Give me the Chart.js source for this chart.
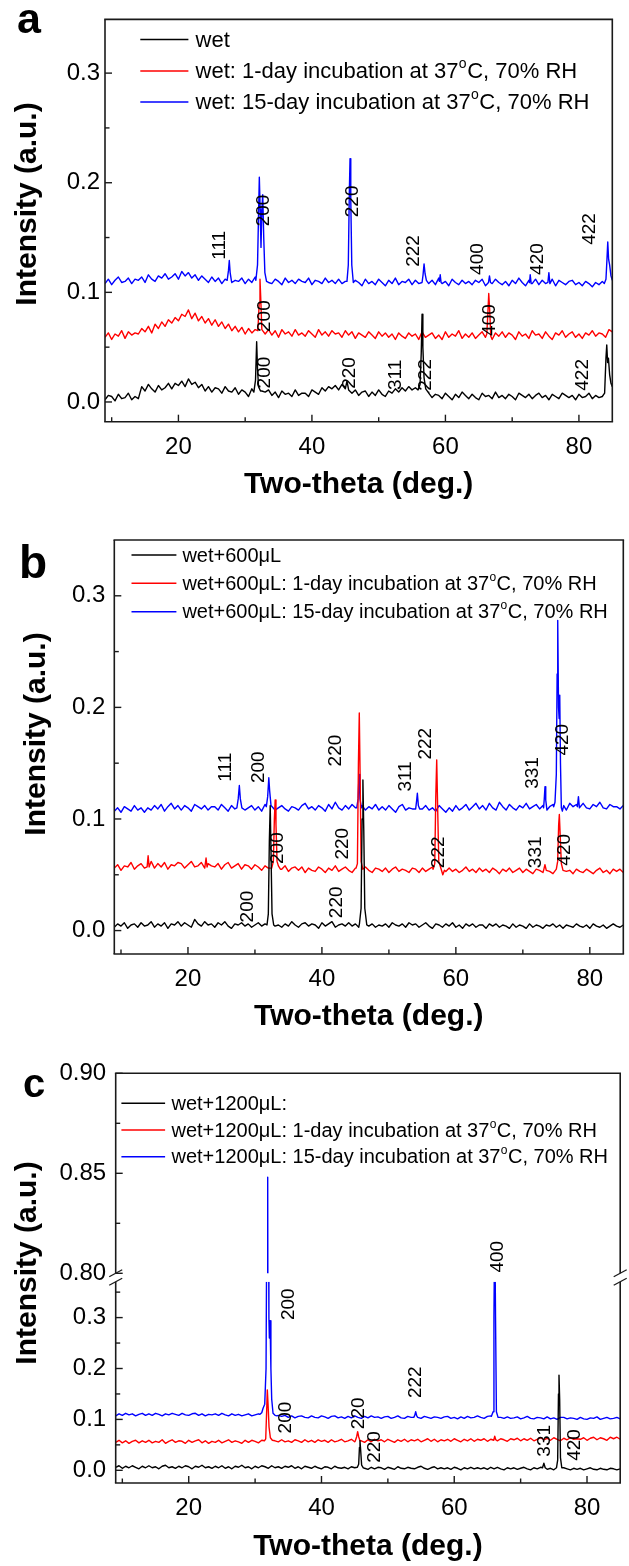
<!DOCTYPE html>
<html><head><meta charset="utf-8">
<script src="https://cdn.jsdelivr.net/npm/chart.js@4.4.1/dist/chart.umd.min.js"></script>
<style>
html,body{margin:0;padding:0;background:#fff;}
body{width:629px;height:1566px;position:relative;overflow:hidden;}
canvas{position:absolute;left:0;}
</style></head><body>
<canvas id="ca" width="629" height="505" style="top:0px"></canvas>
<canvas id="cb" width="629" height="530" style="top:505px"></canvas>
<canvas id="cc" width="629" height="531" style="top:1035px"></canvas>
<script>
// ---------------- DATA ----------------
const UNIT = 0.001;              // intensities below are in 1e-3 a.u.
const THETA0 = 9, DTHETA = 0.5;  // baseline samples: 9.0, 9.5, ... 85.0 deg

const xMajor = [20, 40, 60, 80];
const xMinor = [10, 30, 50, 70];
const yMajorAB = [0, 0.1, 0.2, 0.3];
const yMinorAB = [0.05, 0.15, 0.25];
const yMajorCLow = [0, 0.1, 0.2, 0.3];
const yMinorCLow = [0.05, 0.15, 0.25, 0.35];
const yMajorCHigh = [0.80, 0.85, 0.90];
const yMinorCHigh = [0.825, 0.875];

const legendA = ['wet', 'wet: 1-day incubation at 37°C, 70% RH', 'wet: 15-day incubation at 37°C, 70% RH'];
const legendB = ['wet+600μL', 'wet+600μL: 1-day incubation at 37°C, 70% RH', 'wet+600μL: 15-day incubation at 37°C, 70% RH'];
const legendC = ['wet+1200μL:', 'wet+1200μL: 1-day incubation at 37°C, 70% RH', 'wet+1200μL: 15-day incubation at 37°C, 70% RH'];

// ---- panel a ----
const aWetBase = [2,6,5,1,7,3,4,8,2,5, 3,14,10,16,12,9,15,11,13,17, 12,17,15,19,14,21,16,18,13,16,
 10,14,9,13,12,8,14,10,9,13, 7,11,9,5,12,8,6,10,9,11, 6,9,4,10,7,8,5,11,6,8,
 8,5,11,9,7,13,10,14,12,15, 11,16,13,10,8,11,6,9,10,5, 9,6,11,7,5,10,8,12,9,13,
 10,14,11,13,12,10,5,8,4,7, 6,3,8,5,2,7,4,9,6,3, 7,4,2,8,5,6,3,9,4,6,
 3,7,5,2,8,6,4,7,3,6, 8,4,6,2,7,5,3,8,6,4, 6,2,7,4,5,8,3,6,4,5, 5,30,15];
const aWetPeaks = [
 [[31.3,9],[31.55,20],[31.72,55],[31.85,30],[32.0,14],[32.3,10]],
 [[45.0,12],[45.25,19],[45.5,11]],
 [[55.9,11],[56.2,16],[56.38,45],[56.5,80],[56.62,50],[56.8,22],[57.05,12],[57.4,9]],
 [[83.6,5],[83.85,8],[84.05,40],[84.17,52],[84.3,36],[84.42,40],[84.6,25],[84.8,17],[85.0,14]]];
const aRedBase = [59,63,57,62,60,65,58,64,61,63, 62,67,64,69,63,71,67,73,69,75, 72,77,74,80,78,84,76,81,74,78,
 72,76,70,75,69,73,67,71,65,69, 64,68,62,67,63,66,60,65,62,66, 61,65,59,66,62,64,60,66,61,63,
 60,65,62,59,66,61,64,60,65,62, 63,59,65,61,64,58,63,61,59,64, 61,58,64,60,63,59,62,57,63,60,
 58,63,60,62,57,64,59,61,63,58, 61,57,64,59,62,60,65,58,62,59, 63,58,61,64,59,62,57,63,60,64,
 59,63,61,57,64,60,62,58,65,61, 62,58,64,60,57,63,61,65,59,62, 64,59,62,58,63,61,65,60,63,62, 59,66,64];
const aRedPeaks = [
 [[31.9,65],[32.1,90],[32.22,112],[32.33,95],[32.5,66]],
 [[66.2,62],[66.35,80],[66.49,99],[66.62,85],[66.8,60]]];
const aBlueBase = [108,112,107,111,114,109,110,113,108,112, 111,114,109,116,112,110,115,113,117,112, 114,117,112,119,115,118,113,116,111,115,
 112,109,114,110,113,108,112,115,109,111, 110,113,108,112,109,114,110,107,112,109, 108,112,110,107,113,109,111,108,112,110,
 109,113,107,111,110,108,113,109,111,108, 112,108,110,113,107,111,109,106,112,108, 110,107,112,109,106,111,108,113,107,110,
 109,112,107,111,108,110,113,108,111,107, 113,108,110,106,112,109,107,111,108,110, 107,111,109,112,106,110,108,112,109,107,
 110,106,111,108,113,109,106,111,108,112, 107,111,108,110,112,106,111,109,107,110, 111,107,109,106,110,108,105,109,107,110, 140,125,111];
const aBluePeaks = [
 [[27.3,111],[27.5,120],[27.62,129],[27.75,118],[27.95,110]],
 [[31.6,111],[31.85,125],[32.0,170],[32.12,205],[32.25,175],[32.37,141],[32.5,175],[32.63,189],[32.78,150],[32.95,118],[33.2,110]],
 [[45.25,110],[45.45,125],[45.6,190],[45.71,222],[45.82,185],[45.97,125],[46.2,109]],
 [[56.5,109],[56.65,116],[56.8,126],[56.95,117],[57.15,111]],
 [[59.1,110],[59.22,116],[59.35,109]],
 [[66.45,109],[66.6,115],[66.75,109]],
 [[72.6,109],[72.7,116],[72.85,108]],
 [[75.35,109],[75.5,118],[75.65,108]],
 [[83.8,108],[84.05,112],[84.2,130],[84.32,146],[84.45,130],[84.6,125],[84.8,115],[85.0,111]]];
const peakLabelsA = [
 ['111',26.23,0.1429],['200',32.82,0.1747],['220',46.16,0.183],['222',55.3,0.1377],['400',64.81,0.1304],['420',73.8,0.1304],['422',81.67,0.1578],
 ['200',32.97,0.0783],['400',66.69,0.0747],
 ['200',32.91,0.0268],['220',45.71,0.0265],['311',52.53,0.0247],['222',57.1,0.0247],['422',80.62,0.0247]];

// ---- panel b ----
const bWetBase = [3,6,4,7,2,5,6,3,7,4, 5,8,3,6,4,7,2,6,5,8, 4,7,5,3,10,6,4,8,5,6,
 3,7,5,8,4,2,6,5,7,4, 6,3,5,7,4,6,3,7,4,5, 3,6,4,8,5,3,6,7,4,6,
 5,2,7,4,6,8,3,5,6,4, 7,4,6,3,5,8,4,6,3,5, 4,6,3,7,5,4,6,3,7,5,
 6,3,5,7,4,2,6,5,3,6, 4,7,3,5,2,6,4,6,3,5, 5,2,6,4,6,3,5,4,2,6,
 3,5,4,2,6,3,5,4,2,5, 4,6,3,5,2,5,4,3,6,4, 3,5,2,6,4,3,5,2,4,6, 4,3,5];
const bWetPeaks = [
 [[31.8,5],[32.0,15],[32.15,80],[32.28,112],[32.4,70],[32.55,15],[32.8,5]],
 [[45.6,6],[45.85,20],[46.0,100],[46.12,135],[46.25,90],[46.4,20],[46.7,5]]];
const bRedBase = [56,59,54,58,57,61,55,58,60,56, 59,62,56,60,57,61,55,59,58,61, 60,56,59,62,57,58,61,56,60,58,
 57,60,55,59,61,56,58,60,55,59, 58,55,59,57,54,58,56,59,55,57, 55,58,53,56,57,54,57,52,56,54,
 53,57,55,52,56,54,58,53,55,57, 54,52,56,55,53,57,54,52,56,55, 53,56,52,55,57,53,55,54,52,56,
 55,52,56,53,55,57,52,55,54,53, 56,53,55,52,54,57,53,55,52,56, 53,55,52,56,54,51,55,53,56,52,
 54,56,52,55,53,51,55,54,52,55, 53,51,55,52,56,53,54,51,55,53, 52,55,53,51,54,56,52,54,51,55, 53,55,52];
const bRedPeaks = [
 [[13.9,57],[14.05,67],[14.2,57]],
 [[22.55,58],[22.7,65],[22.85,57]],
 [[32.5,56],[32.75,62],[32.9,100],[33.02,117],[33.14,95],[33.3,62],[33.5,58],[33.8,55]],
 [[45.1,56],[45.3,60],[45.45,150],[45.58,195],[45.7,140],[45.85,62],[46.1,55]],
 [[56.6,55],[56.85,60],[57.0,120],[57.14,153],[57.28,110],[57.45,62],[57.75,56],[58.05,50],[58.3,54]],
 [[73.1,54],[73.3,59],[73.5,54]],
 [[75.0,55],[75.2,62],[75.35,95],[75.45,104],[75.58,85],[75.75,60],[76.0,54]]];
const bBlueBase = [107,110,106,111,109,107,112,108,110,106, 110,108,112,109,113,107,111,114,109,112, 108,112,110,107,113,111,109,112,108,111,
 111,108,113,110,107,112,109,111,113,108, 110,112,108,111,107,113,109,112,108,110, 112,109,107,111,110,108,112,114,109,111,
 108,112,110,107,113,109,115,110,108,112, 109,113,110,107,112,108,111,109,113,108, 111,108,112,109,106,111,113,108,110,109,
 107,111,109,112,108,110,107,112,109,106, 110,107,112,108,110,113,108,111,114,109, 112,108,114,110,108,115,111,108,113,110,
 108,112,110,114,109,111,113,109,112,115, 111,113,109,112,110,108,114,111,113,110, 114,110,109,113,111,115,110,109,113,111, 111,109,112];
const bBluePeaks = [
 [[27.3,110],[27.5,118],[27.67,130],[27.82,118],[28.05,110]],
 [[31.7,111],[31.9,120],[32.07,137],[32.2,125],[32.4,112]],
 [[45.2,110],[45.4,118],[45.54,140],[45.68,118],[45.9,110]],
 [[54.0,109],[54.15,117],[54.25,123],[54.4,112],[54.6,109]],
 [[73.1,110],[73.2,118],[73.31,129],[73.42,117],[73.6,108]],
 [[74.6,111],[74.8,115],[75.0,140],[75.12,230],[75.21,278],[75.33,200],[75.42,190],[75.51,211],[75.62,150],[75.75,110],[75.9,107],[76.1,112]],
 [[78.15,111],[78.3,120],[78.45,110]]];
const peakLabelsB = [
 ['111',25.65,0.1464],['200',30.61,0.1464],['220',42.07,0.1613],['311',52.53,0.1381],['222',55.47,0.1674],['331',71.45,0.1412],['420',75.93,0.171],
 ['200',33.37,0.0739],['220',43.07,0.0778],['222',57.45,0.0701],['331',71.94,0.0701],['420',76.3,0.0724],
 ['200',28.89,0.0215],['220',42.21,0.0253]];

// ---- panel c ----
const cWetBase = [6,9,4,8,5,9,6,3,8,5, 9,5,7,3,8,10,5,7,4,8, 5,9,7,3,8,6,10,5,7,4,
 8,5,9,4,7,3,8,6,10,5, 7,3,8,5,9,7,4,9,5,7, 4,8,6,9,4,7,3,8,6,4,
 8,5,3,7,6,3,8,5,4,6, 3,7,5,3,6,4,2,6,3,6, 5,2,6,4,2,7,4,3,6,4,
 3,6,8,4,2,5,7,3,5,3, 5,2,6,4,1,5,3,6,3,5, 3,5,2,6,3,6,3,1,5,3,
 5,2,4,6,3,1,5,3,6,4, 2,4,1,4,2,5,3,1,4,2, 4,1,3,5,2,1,4,2,1,4, 3,1,3];
const cWetPeaks = [
 [[45.4,6],[45.6,12],[45.72,45],[45.8,58],[45.9,40],[46.05,10],[46.3,5]],
 [[73.3,5],[73.5,14],[73.7,5]],
 [[75.4,5],[75.58,20],[75.7,150],[75.78,187],[75.88,140],[76.0,25],[76.2,5]]];
const cRedBase = [55,59,54,58,53,57,59,54,58,55, 59,54,57,55,60,53,57,60,55,58, 57,53,59,55,58,60,54,58,53,57,
 55,59,54,57,60,55,58,56,53,59, 55,59,57,54,59,56,60,61,58,56, 60,56,58,55,60,58,55,60,56,59,
 55,60,57,59,55,60,56,58,61,56, 58,61,56,60,58,55,60,56,61,58, 60,56,61,58,55,60,57,61,56,60,
 58,61,56,59,62,57,61,56,60,58, 61,57,62,59,56,61,58,62,57,61, 59,62,57,61,63,58,62,60,57,62,
 60,63,58,62,59,63,58,61,64,60, 63,59,64,61,58,63,60,64,61,62, 61,64,59,63,65,60,64,62,59,65, 62,65,61];
const cRedPeaks = [
 [[31.4,58],[31.6,62],[31.75,120],[31.84,158],[31.95,130],[32.1,85],[32.3,64],[32.6,59]],
 [[45.1,58],[45.3,66],[45.45,76],[45.6,66],[45.8,58]],
 [[65.95,59],[66.1,67],[66.25,60]]];
const cBlueBase = [107,111,108,112,109,111,107,110,112,108, 111,108,112,110,107,111,109,112,110,108, 112,109,108,111,112,108,111,107,110,109,
 111,108,112,109,107,111,108,110,107,109, 111,107,109,111,112,113,116,118,112,108, 106,108,104,107,103,106,107,104,103,107,
 104,103,107,105,102,106,107,103,105,102, 106,103,107,104,102,106,103,107,104,105, 102,105,106,102,104,107,103,102,106,104,
 106,103,102,106,104,102,105,104,102,105, 106,102,104,101,105,102,106,103,104,107, 104,102,106,107,104,104,104,102,105,102,
 103,105,101,103,106,102,101,104,103,101, 105,101,103,100,104,104,101,103,102,100, 104,101,100,103,102,105,100,102,104,101, 102,104,101];
const cBluePeaks = [
 [[30.7,110],[31.0,113],[31.2,122],[31.45,130],[31.65,200],[31.8,600],[31.9,848],[32.0,600],[32.08,300],[32.15,260],[32.25,294],[32.38,200],[32.5,140],[32.7,112],[33.0,108],[33.3,107]],
 [[53.9,104],[54.05,108],[54.19,115],[54.35,107],[54.5,104]],
 [[65.6,106],[65.85,115],[65.98,300],[66.1,500],[66.22,300],[66.35,115],[66.6,104]]];
const peakLabelsC = [
 ['200',35.0,0.3263,'yBot'],['400',66.51,0.8083,'yTop'],['222',54.23,0.1731,'yBot'],
 ['200',34.62,0.1037,'yBot'],['220',45.62,0.112,'yBot'],
 ['220',48.06,0.0458,'yBot'],['331',73.69,0.058,'yBot'],['420',78.11,0.0497,'yBot']];

// ---------------- BUILD ----------------
const FONT = "'Liberation Sans', Arial, Helvetica, sans-serif";
const COLORS = ['#000000', '#ff0000', '#0000ff'];
const FRAME = '#1a1a1a';

function series(base, peaks) {
  let pts = base.map((v, i) => ({ x: THETA0 + i * DTHETA, y: v * UNIT }));
  for (const pk of peaks) {
    const lo = pk[0][0], hi = pk[pk.length - 1][0];
    pts = pts.filter(p => p.x < lo || p.x > hi);
    for (const [x, v] of pk) pts.push({ x, y: v * UNIT });
  }
  return pts.sort((p, q) => p.x - q.x);
}

// yAxes listed bottom-most first
const panels = {
  ca: { letter: 'a', letterPos: [17, 33], letterSize: 43, W: 629, H: 505, L: 105, R: 612.3, T: 10.7, B: 421.7,
        yAxes: [{ id: 'y', min: -0.018, max: 0.349, major: yMajorAB, minor: yMinorAB, dec: 1 }],
        yPad: 5, xTitlePad: 2, yTitle: [28, 204],
        legend: { x1: 140.3, x2: 188.4, tx: 195.6, rows: [39.5, 71, 102], size: 22, labels: legendA },
        peakLabels: peakLabelsA,
        data: [series(aWetBase, aWetPeaks), series(aRedBase, aRedPeaks), series(aBlueBase, aBluePeaks)] },
  cb: { letter: 'b', letterPos: [19, 73], letterSize: 46, W: 629, H: 530, L: 114.3, R: 623.3, T: 35, B: 449,
        yAxes: [{ id: 'y', min: -0.021, max: 0.350, major: yMajorAB, minor: yMinorAB, dec: 1 }],
        yPad: 9, xTitlePad: 0, yTitle: [37, 229],
        legend: { x1: 131.5, x2: 176.4, tx: 182.4, rows: [50, 78.3, 106.7], size: 20, labels: legendB },
        peakLabels: peakLabelsB,
        data: [series(bWetBase, bWetPeaks), series(bRedBase, bRedPeaks), series(bBlueBase, bBluePeaks)] },
  cc: { letter: 'c', letterPos: [23, 62], letterSize: 40, W: 629, H: 531, L: 115.7, R: 620.2, T: 38.3, B: 448,
        yAxes: [{ id: 'yBot', min: -0.0249, max: 0.3705, weight: 201.3, major: yMajorCLow, minor: yMinorCLow, dec: 1 },
                { id: 'yTop', min: 0.7958, max: 0.90, weight: 208.4, major: yMajorCHigh, minor: yMinorCHigh, dec: 2, clipLow: 0.80 }],
        yPad: 9.5, xTitlePad: 1.3, yTitle: [28, 228], brk: true,
        legend: { x1: 121.4, x2: 165.1, tx: 171.5, rows: [68.3, 95, 121.7], size: 20, labels: legendC },
        peakLabels: peakLabelsC,
        data: [series(cWetBase, cWetPeaks), series(cRedBase, cRedPeaks), series(cBlueBase, cBluePeaks)] }
};

function line(ctx, x1, y1, x2, y2) { ctx.beginPath(); ctx.moveTo(x1, y1); ctx.lineTo(x2, y2); ctx.stroke(); }

function drawRich(ctx, text, x, y, size) {
  const parts = text.split('°');
  ctx.textBaseline = 'middle'; ctx.textAlign = 'left'; ctx.fillStyle = '#000';
  let cx = x;
  parts.forEach((p, i) => {
    ctx.font = `${size}px ${FONT}`;
    ctx.fillText(p, cx, y); cx += ctx.measureText(p).width;
    if (i < parts.length - 1) {
      ctx.font = `${Math.round(size * 0.62)}px ${FONT}`;
      ctx.fillText('o', cx + 0.3, y - size * 0.34);
      cx += ctx.measureText('o').width + 0.8;
    }
  });
}

const decor = {
  id: 'decor',
  beforeDatasetDraw(chart, args) {
    const P = panels[chart.canvas.id]; const ys = args.meta.yScale; const ca = chart.chartArea; const ctx = chart.ctx;
    const ax = P.yAxes.find(a => a.id === ys.id);
    let top = ys.top, bottom = ys.bottom;
    if (ax && ax.clipLow != null) bottom = ys.getPixelForValue(ax.clipLow);
    ctx.save(); ctx.beginPath(); ctx.rect(ca.left - 2, top, ca.right - ca.left + 4, bottom - top); ctx.clip();
  },
  afterDatasetDraw(chart) { chart.ctx.restore(); },
  afterDraw(chart) {
    const P = panels[chart.canvas.id]; const ctx = chart.ctx; const ca = chart.chartArea; const xs = chart.scales.x;
    ctx.save();
    ctx.strokeStyle = FRAME; ctx.lineWidth = 1.6; ctx.lineCap = 'butt';
    line(ctx, ca.left - 0.8, ca.top, ca.right + 0.8, ca.top);
    line(ctx, ca.left - 0.8, ca.bottom, ca.right + 0.8, ca.bottom);
    if (P.brk) {
      const hi = chart.scales.yTop.getPixelForValue(0.80), lo = chart.scales.yBot.top;
      [ca.left, ca.right].forEach(xx => {
        line(ctx, xx, ca.top, xx, hi); line(ctx, xx, lo, xx, ca.bottom);
        ctx.lineWidth = 1.3;
        line(ctx, xx - 6.5, hi + 3.5, xx + 6.5, hi - 3.5);
        line(ctx, xx - 6.5, lo + 3.5, xx + 6.5, lo - 3.5);
        ctx.lineWidth = 1.6;
      });
    } else {
      line(ctx, ca.left, ca.top, ca.left, ca.bottom); line(ctx, ca.right, ca.top, ca.right, ca.bottom);
    }
    ctx.lineWidth = 1.4;
    xMajor.forEach(v => { const p = xs.getPixelForValue(v); line(ctx, p, ca.bottom, p, ca.bottom - 7); });
    xMinor.forEach(v => { const p = xs.getPixelForValue(v); line(ctx, p, ca.bottom, p, ca.bottom - 4.5); });
    P.yAxes.forEach(ax => {
      const s = chart.scales[ax.id];
      ax.major.forEach(v => { const p = s.getPixelForValue(v); line(ctx, ca.left, p, ca.left + 7, p); });
      ax.minor.forEach(v => { const p = s.getPixelForValue(v); line(ctx, ca.left, p, ca.left + 4.5, p); });
    });
    const lg = P.legend;
    lg.labels.forEach((t, i) => {
      const y = lg.rows[i];
      ctx.strokeStyle = COLORS[i]; ctx.lineWidth = 1.6;
      line(ctx, lg.x1, y, lg.x2, y);
      drawRich(ctx, t, lg.tx, y + 1, lg.size);
    });
    ctx.fillStyle = '#000'; ctx.font = `19px ${FONT}`; ctx.textAlign = 'center'; ctx.textBaseline = 'middle';
    P.peakLabels.forEach(([t, x, y, axId]) => {
      const px = xs.getPixelForValue(x), py = chart.scales[axId || 'y'].getPixelForValue(y);
      ctx.save(); ctx.translate(px, py); ctx.rotate(-Math.PI / 2); ctx.fillText(t, 0, 0); ctx.restore();
    });
    ctx.font = `bold 30px ${FONT}`; ctx.textAlign = 'center'; ctx.textBaseline = 'middle';
    ctx.save(); ctx.translate(P.yTitle[0], P.yTitle[1]); ctx.rotate(-Math.PI / 2); ctx.fillText('Intensity (a.u.)', 0, 0); ctx.restore();
    ctx.font = `bold ${P.letterSize}px ${FONT}`; ctx.textAlign = 'left'; ctx.textBaseline = 'alphabetic';
    ctx.fillText(P.letter, P.letterPos[0], P.letterPos[1]);
    ctx.restore();
  }
};
Chart.register(decor);

function makeChart(id) {
  const P = panels[id];
  const scales = {
    x: {
      type: 'linear', min: 9, max: 85,
      grid: { display: false, drawTicks: false }, border: { display: false },
      afterBuildTicks: s => { s.ticks = xMajor.map(v => ({ value: v })); },
      afterFit: s => { s.height = P.H - P.B; },
      ticks: { padding: 11, autoSkip: false, maxRotation: 0, color: '#000', font: { family: FONT, size: 24 }, callback: v => String(v) },
      title: { display: true, text: 'Two-theta (deg.)', color: '#000', font: { family: FONT, size: 30, weight: 'bold' }, padding: { top: 0, bottom: P.xTitlePad } }
    }
  };
  P.yAxes.forEach(ax => {
    const sc = {
      type: 'linear', position: 'left', min: ax.min, max: ax.max,
      grid: { display: false, drawTicks: false }, border: { display: false },
      afterBuildTicks: s => { s.ticks = ax.major.map(v => ({ value: v })); },
      afterFit: s => { s.width = P.L; },
      ticks: { padding: P.yPad, autoSkip: false, color: '#000', font: { family: FONT, size: 24 }, callback: v => v.toFixed(ax.dec) }
    };
    if (P.yAxes.length > 1) { sc.stack = 'brk'; sc.stackWeight = ax.weight; }
    scales[ax.id] = sc;
  });
  const lowId = P.yAxes[0].id;
  const mk = (label, data, color, yAxisID) => ({ label, data, borderColor: color, backgroundColor: color,
    borderWidth: 1.4, pointRadius: 0, tension: 0, fill: false, borderJoinStyle: 'round', yAxisID });
  const datasets = P.data.map((d, i) => mk(P.legend.labels[i], d, COLORS[i], lowId));
  if (P.brk) datasets.push(mk('', P.data[2], COLORS[2], 'yTop'));
  new Chart(document.getElementById(id), {
    type: 'line',
    data: { datasets },
    options: {
      responsive: false, animation: false, devicePixelRatio: 1, events: [],
      layout: { padding: { left: 0, right: P.W - P.R, top: P.T, bottom: 0 } },
      plugins: { legend: { display: false }, tooltip: { enabled: false } },
      scales
    }
  });
}
['ca', 'cb', 'cc'].forEach(makeChart);
</script>
</body></html>
